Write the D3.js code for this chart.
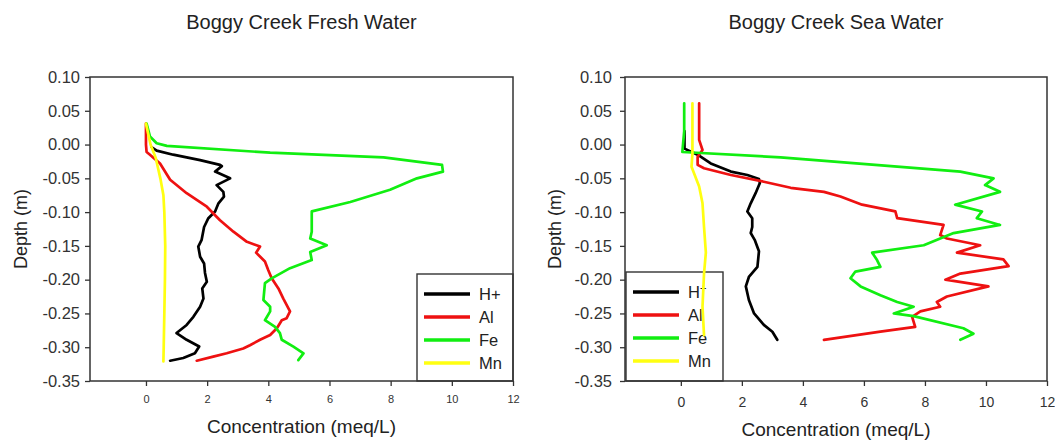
<!DOCTYPE html>
<html>
<head>
<meta charset="utf-8">
<title>Boggy Creek</title>
<style>
  body { margin: 0; background: #fff; }
  svg { display: block; font-family: "Liberation Sans", Arial, sans-serif; }
  .frame { fill: none; stroke: #333; stroke-width: 1.5; }
  .axis path, .axis line { stroke: #333; stroke-width: 1.3; }
  .axis text { fill: #333; font-family: "Liberation Sans", Arial, sans-serif; }
  .series { fill: none; stroke-width: 2.7; stroke-linejoin: round; stroke-linecap: round; }
</style>
</head>
<body>
<div id="chart"></div>
<script src="https://cdn.jsdelivr.net/npm/d3@7"></script>
<script>
// values: [concentration meq/L, depth m]
const freshH = [[0.19,-0.004],[0.35,-0.009],[0.89,-0.015],[1.77,-0.023],[2.42,-0.030],[2.48,-0.032],[2.26,-0.040],[2.75,-0.050],[2.31,-0.060],[2.53,-0.070],[2.55,-0.077],[2.37,-0.087],[2.26,-0.099],[2.04,-0.109],[1.90,-0.122],[1.82,-0.141],[1.71,-0.151],[1.77,-0.166],[1.90,-0.176],[1.93,-0.190],[1.99,-0.203],[1.84,-0.213],[1.88,-0.228],[1.77,-0.240],[1.55,-0.255],[1.33,-0.267],[1.00,-0.279],[1.33,-0.289],[1.74,-0.299],[1.60,-0.309],[1.22,-0.316],[0.79,-0.320]];
const freshAl = [[0.0,0.031],[0.0,0.0],[0.02,-0.011],[0.13,-0.015],[0.46,-0.028],[0.79,-0.052],[1.33,-0.072],[1.99,-0.092],[2.42,-0.112],[2.86,-0.129],[3.30,-0.144],[3.73,-0.151],[3.60,-0.160],[3.89,-0.173],[4.00,-0.186],[4.11,-0.198],[4.33,-0.213],[4.49,-0.228],[4.71,-0.247],[4.60,-0.257],[4.44,-0.260],[4.28,-0.272],[4.06,-0.282],[3.73,-0.289],[3.40,-0.297],[3.18,-0.302],[2.64,-0.309],[2.20,-0.314],[1.66,-0.320]];
const freshFe = [[0.02,0.031],[0.13,0.012],[0.35,0.002],[0.68,-0.002],[4.06,-0.012],[7.77,-0.019],[9.68,-0.030],[9.71,-0.040],[8.86,-0.050],[7.98,-0.067],[6.68,-0.085],[5.42,-0.099],[5.42,-0.129],[5.37,-0.139],[5.91,-0.149],[5.37,-0.159],[5.42,-0.171],[4.71,-0.183],[4.11,-0.198],[3.89,-0.205],[3.84,-0.230],[4.06,-0.240],[4.06,-0.247],[3.89,-0.260],[4.22,-0.270],[4.38,-0.279],[4.44,-0.289],[4.82,-0.299],[5.15,-0.309],[4.98,-0.319]];
const freshMn = [[0.0,0.031],[0.10,0.010],[0.15,0.0],[0.32,-0.020],[0.47,-0.050],[0.57,-0.075],[0.60,-0.100],[0.63,-0.150],[0.62,-0.200],[0.60,-0.250],[0.58,-0.300],[0.57,-0.321]];

const seaH = [[0.12,0.020],[0.12,-0.006],[0.55,-0.015],[0.98,-0.028],[1.64,-0.040],[2.18,-0.045],[2.56,-0.051],[2.59,-0.057],[2.45,-0.072],[2.29,-0.087],[2.18,-0.099],[2.34,-0.109],[2.34,-0.122],[2.29,-0.131],[2.42,-0.141],[2.56,-0.158],[2.51,-0.181],[2.23,-0.196],[2.13,-0.210],[2.23,-0.230],[2.40,-0.250],[2.72,-0.267],[3.00,-0.277],[3.16,-0.289]];
const seaAl = [[0.60,0.061],[0.60,0.007],[0.71,-0.008],[0.55,-0.018],[0.55,-0.030],[0.76,-0.035],[1.64,-0.045],[2.72,-0.055],[3.60,-0.064],[4.69,-0.070],[5.23,-0.077],[5.94,-0.089],[7.03,-0.099],[7.09,-0.109],[8.61,-0.119],[8.50,-0.134],[8.72,-0.139],[9.81,-0.149],[9.05,-0.160],[10.57,-0.170],[10.74,-0.180],[9.16,-0.191],[8.67,-0.200],[10.08,-0.210],[8.72,-0.225],[8.39,-0.233],[8.50,-0.240],[7.85,-0.247],[7.58,-0.255],[7.68,-0.270],[6.54,-0.277],[4.69,-0.289]];
const seaFe = [[0.11,0.061],[0.11,0.020],[0.05,-0.011],[3.27,-0.019],[9.16,-0.040],[10.25,-0.050],[9.97,-0.060],[10.46,-0.070],[8.99,-0.089],[9.87,-0.099],[9.70,-0.109],[10.46,-0.119],[8.94,-0.131],[7.96,-0.149],[6.27,-0.160],[6.43,-0.171],[6.54,-0.181],[5.72,-0.188],[5.56,-0.198],[5.89,-0.210],[6.54,-0.223],[7.09,-0.233],[7.63,-0.240],[6.98,-0.250],[7.63,-0.254],[9.26,-0.272],[9.59,-0.280],[9.16,-0.289]];
const seaMn = [[0.38,0.061],[0.38,-0.013],[0.35,-0.033],[0.60,-0.062],[0.71,-0.087],[0.76,-0.122],[0.82,-0.160],[0.76,-0.191],[0.71,-0.240],[0.76,-0.282]];

const seriesNames = ["H+", "Al", "Fe", "Mn"];
const seriesColors = ["#000000", "#ee1111", "#11ee11", "#ffff11"];
const xTicks = [0, 2, 4, 6, 8, 10, 12];
const yTicks = [0.10, 0.05, 0.00, -0.05, -0.10, -0.15, -0.20, -0.25, -0.30, -0.35];
const xDomain = [-1.83, 12];
const yDomain = [-0.35, 0.10];

const W = 1055, H = 441;
const svg = d3.select('#chart').append('svg')
  .attr('width', W).attr('height', H);

function drawPanel(p) {
  const x = d3.scaleLinear().domain(xDomain).range([p.left, p.right]);
  const y = d3.scaleLinear().domain(yDomain).range([p.bottom, p.top]);
  const g = svg.append('g');

  // legend box first, the curves may cross it
  const lg = g.append('g');
  lg.append('rect')
    .attr('x', p.legend.x).attr('y', p.legend.y)
    .attr('width', p.legend.w).attr('height', p.bottom - p.legend.y)
    .attr('fill', 'none').attr('stroke', '#333').attr('stroke-width', 1.4);
  seriesNames.forEach((n, i) => {
    const ly = p.legend.y + 20 + i * 23;
    lg.append('line')
      .attr('x1', p.legend.x + 7).attr('x2', p.legend.x + 53)
      .attr('y1', ly).attr('y2', ly)
      .attr('stroke', seriesColors[i]).attr('stroke-width', 3.5);
    const t = lg.append('text')
      .attr('x', p.legend.x + 62).attr('y', ly + 6)
      .attr('font-size', 16.5).attr('fill', '#222');
    if (i === 0 && p.superPlus) {
      t.append('tspan').text('H');
      t.append('tspan').attr('dy', -6).attr('font-size', 11).text('+');
    } else {
      t.text(n);
    }
  });

  // series
  const line = d3.line().x(d => x(d[0])).y(d => y(d[1]));
  p.data.forEach((s, i) => {
    g.append('path').attr('class', 'series')
      .attr('stroke', seriesColors[i])
      .attr('d', line(s));
  });

  // frame
  g.append('rect').attr('class', 'frame')
    .attr('x', p.left).attr('y', p.top)
    .attr('width', p.right - p.left).attr('height', p.bottom - p.top);

  // axes
  const ya = g.append('g').attr('class', 'axis')
    .attr('transform', `translate(${p.left},0)`)
    .call(d3.axisLeft(y).tickValues(yTicks).tickSize(5).tickPadding(p.yPad)
      .tickFormat(d => d.toFixed(2)));
  ya.select('.domain').remove();
  ya.selectAll('text').attr('font-size', 16.5);

  const xa = g.append('g').attr('class', 'axis')
    .attr('transform', `translate(0,${p.bottom})`)
    .call(d3.axisBottom(x).tickValues(xTicks).tickSize(5).tickPadding(p.xPad));
  xa.select('.domain').remove();
  xa.selectAll('text').attr('font-size', p.xFont).attr('fill', p.xColor);

  // titles
  const cx = (p.left + p.right) / 2;
  g.append('text').attr('x', cx).attr('y', 29)
    .attr('text-anchor', 'middle').attr('font-size', 20).attr('fill', '#222')
    .text(p.title);
  g.append('text').attr('x', cx).attr('y', p.xTitleY)
    .attr('text-anchor', 'middle').attr('font-size', 19).attr('fill', '#222')
    .text('Concentration (meq/L)');
  g.append('text')
    .attr('transform', `translate(${p.yTitleX},${(p.top + p.bottom) / 2}) rotate(-90)`)
    .attr('text-anchor', 'middle').attr('font-size', 18).attr('fill', '#222')
    .text('Depth (m)');
}

drawPanel({
  title: 'Boggy Creek Fresh Water',
  data: [freshH, freshAl, freshFe, freshMn],
  left: 90, right: 513, top: 77, bottom: 381,
  legend: { x: 417, y: 274, w: 96 },
  superPlus: false,
  yPad: 5, xPad: 9, xFont: 11, xColor: '#555',
  xTitleY: 433, yTitleX: 27
});

drawPanel({
  title: 'Boggy Creek Sea Water',
  data: [seaH, seaAl, seaFe, seaMn],
  left: 625, right: 1047, top: 77, bottom: 381,
  legend: { x: 626, y: 272, w: 97 },
  superPlus: true,
  yPad: 8, xPad: 11, xFont: 14, xColor: '#333',
  xTitleY: 436, yTitleX: 561
});
</script>
</body>
</html>
